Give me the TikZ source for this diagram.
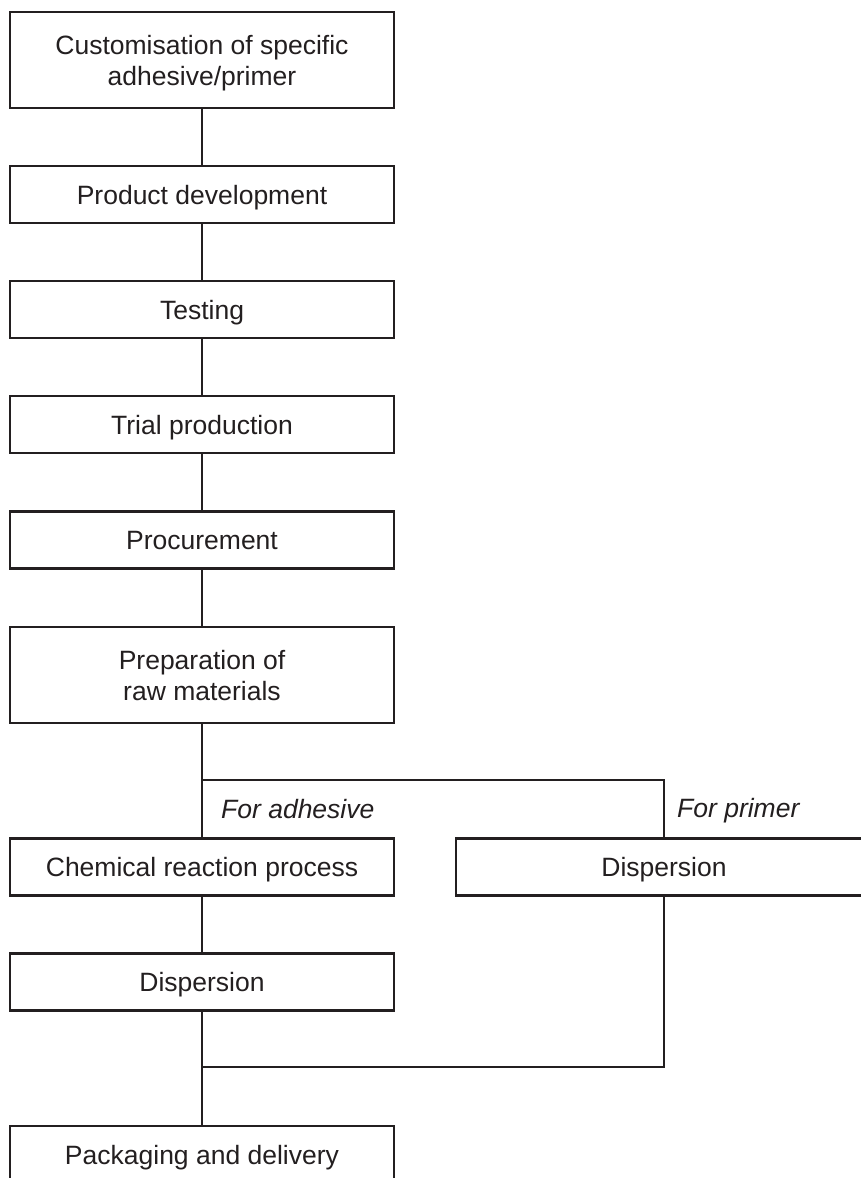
\documentclass[tikz,border=0pt]{standalone}
\usepackage{fontspec}
\setmainfont{Liberation Sans}
\definecolor{ink}{RGB}{35,31,32}
\begin{document}
\begin{tikzpicture}[x=1pt,y=-1pt,
  box/.style={draw=ink, line width=2.6pt, minimum width=384pt, minimum height=57pt,
    inner sep=0pt, outer sep=0pt, text=ink, align=center,
    font=\fontsize{26.5}{30.5}\selectfont, text height=19pt, text depth=0pt},
  tall/.style={minimum height=96pt, text height=50.5pt, text depth=0pt},
  lbl/.style={inner sep=0pt, text=ink, anchor=base west, font=\fontsize{26.5}{30.5}\selectfont\itshape},
  conn/.style={draw=ink, line width=2.6pt}]
\clip (0,0) rectangle (861,1178);
\fill[white] (0,0) rectangle (861,1178);
\node[box, tall] (n1) at (202,60) {Customisation of specific\\adhesive/primer};
\node[box] (n2) at (202,194.5) {Product development};
\node[box] (n3) at (202,309.5) {Testing};
\node[box] (n4) at (202,424.5) {Trial production};
\node[box] (n5) at (202,540) {Procurement};
\node[box, tall] (n6) at (202,675) {Preparation of\\raw materials};
\node[box] (n7) at (202,867) {Chemical reaction process};
\node[box, minimum width=416pt] (nR) at (664,867) {Dispersion};
\node[box] (n9) at (202,982) {Dispersion};
\node[box] (n10) at (202,1154.5) {Packaging and delivery};
\node[lbl] (la) at (221,818) {For adhesive};
\node[lbl] (lp) at (677,817) {For primer};
\coordinate (br) at (202,780);
\coordinate (mg) at (202,1067);
\draw[conn] (n1) -- (n2);
\draw[conn] (n2) -- (n3);
\draw[conn] (n3) -- (n4);
\draw[conn] (n4) -- (n5);
\draw[conn] (n5) -- (n6);
\draw[conn] (n6) -- (n7);
\draw[conn] (br) -| (nR.north);
\draw[conn] (n7) -- (n9);
\draw[conn] (n9) -- (n10);
\draw[conn] (nR.south) |- (mg);
\end{tikzpicture}
\end{document}
